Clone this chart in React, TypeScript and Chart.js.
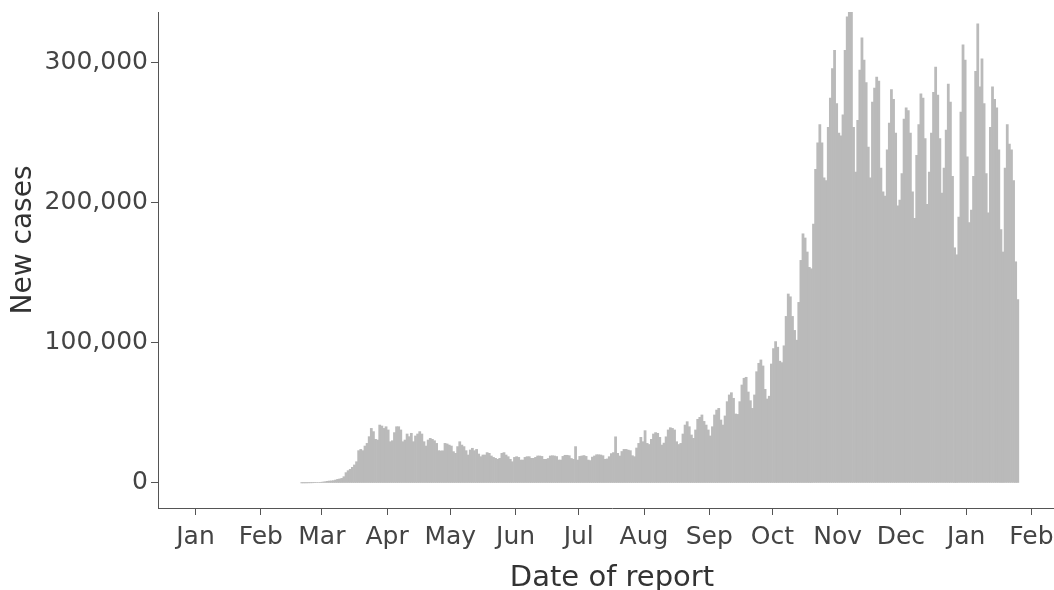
import React, { useEffect, useRef } from 'react';
import { Chart, registerables } from 'chart.js';

Chart.register(...registerables);

// ---- data: daily new cases by date of report ----
const axisOrigin = '2020-01-01';
const seriesStart = '2020-02-20';

const cases2020Feb = [20, 40, 60, 90, 120, 160, 220, 300, 380, 500];
const cases2020Mar = [700, 900, 1200, 1400, 1500, 1700, 2100, 2600, 2900, 3300, 4500, 7400, 8800, 9800, 11200, 12900, 15200, 23100, 24000, 23100, 26400, 28300, 33100, 39000, 36700, 31200, 30700, 41400, 40700, 39000, 40200];
const cases2020Apr = [37900, 29500, 30200, 36000, 40200, 40200, 37900, 29500, 30700, 35000, 33100, 35500, 29500, 33600, 35000, 36700, 35000, 29500, 26400, 30700, 31900, 31200, 30200, 28300, 23100, 22900, 23000, 28300, 27900, 27100];
const cases2020May = [26400, 22400, 21200, 26000, 29500, 27100, 26000, 23100, 20000, 23600, 24800, 23100, 24000, 20700, 18800, 20000, 20000, 21700, 21200, 19300, 18300, 17600, 16900, 17600, 21200, 21700, 20000, 18800, 16900, 15200, 18300];
const cases2020Jun = [18800, 18300, 16400, 16400, 18300, 18800, 18800, 17600, 17600, 18300, 19300, 19300, 19000, 16900, 16900, 17500, 19300, 19500, 19300, 18900, 16400, 16400, 19000, 19800, 19800, 19500, 17500, 16900, 26000, 16400];
const cases2020Jul = [19000, 19300, 19600, 19000, 16400, 16000, 18500, 19300, 20200, 20200, 20000, 19500, 16900, 17200, 18800, 21000, 21700, 33000, 21200, 19300, 22500, 24000, 24000, 23500, 23100, 19500, 18800, 25000, 28300, 32600, 29500];
const cases2020Aug = [37400, 28300, 27500, 31200, 35000, 36000, 35500, 32600, 27100, 28500, 33000, 37900, 39500, 39000, 37900, 29500, 27500, 28300, 35000, 41400, 43800, 40200, 34300, 31900, 37900, 45500, 46900, 48600, 44000, 41400, 37900];
const cases2020Sep = [33600, 40200, 48600, 52100, 53300, 45000, 41400, 47900, 58100, 62900, 64500, 60500, 49300, 49000, 58100, 70000, 74800, 75500, 65000, 58800, 53300, 62900, 79500, 85500, 87900, 83600, 66900, 60000, 62000, 85000];
const cases2020Oct = [96000, 101000, 97000, 87000, 86000, 98000, 119000, 135000, 133000, 119000, 109000, 102000, 129000, 159000, 178000, 175000, 165000, 154000, 153000, 185000, 224000, 243000, 256000, 243000, 218000, 216000, 254000, 275000, 296000, 309000, 271000];
const cases2020Nov = [250000, 248000, 263000, 309000, 333000, 345000, 338000, 254000, 222000, 259000, 295000, 318000, 302000, 286000, 240000, 218000, 272000, 282000, 290000, 287000, 225000, 208000, 205000, 238000, 257000, 281000, 274000, 250000, 198000, 202000];
const cases2020Dec = [221000, 260000, 268000, 266000, 250000, 208000, 189000, 234000, 256000, 278000, 275000, 246000, 199000, 222000, 250000, 279000, 297000, 277000, 246000, 207000, 225000, 252000, 285000, 272000, 219000, 168000, 163000, 190000, 265000, 313000, 302000];
const cases2021Jan = [233000, 186000, 195000, 219000, 294000, 328000, 283000, 303000, 271000, 221000, 193000, 254000, 283000, 274000, 268000, 238000, 181000, 165000, 225000, 256000, 242000, 238000, 216000, 158000, 131000];

const monthTickDates = ['2020-01-01', '2020-02-01', '2020-03-01', '2020-04-01', '2020-05-01', '2020-06-01', '2020-07-01', '2020-08-01', '2020-09-01', '2020-10-01', '2020-11-01', '2020-12-01', '2021-01-01', '2021-02-01'];
const monthTickLabels = ['Jan', 'Feb', 'Mar', 'Apr', 'May', 'Jun', 'Jul', 'Aug', 'Sep', 'Oct', 'Nov', 'Dec', 'Jan', 'Feb'];
const yTickValues = [0, 100000, 200000, 300000];

// axis ranges (in days since axisOrigin / case counts)
const xMinDay = -17.8;
const xMaxDay = 413.4;
const yMin = -17857;
const yMax = 336400;

const DAY_MS = 86400000;
const dayIndex = (s: string) => (Date.parse(s) - Date.parse(axisOrigin)) / DAY_MS;

const allCases = [
  ...cases2020Feb, ...cases2020Mar, ...cases2020Apr, ...cases2020May, ...cases2020Jun,
  ...cases2020Jul, ...cases2020Aug, ...cases2020Sep, ...cases2020Oct, ...cases2020Nov,
  ...cases2020Dec, ...cases2021Jan,
];

const FONT = '"DejaVu Sans", Verdana, sans-serif';

const yTitlePlugin = {
  id: 'yTitleText',
  afterDraw(chart: any) {
    const ctx = chart.ctx;
    ctx.save();
    ctx.translate(24, 240);
    ctx.rotate(-Math.PI / 2);
    ctx.font = `28px ${FONT}`;
    ctx.fillStyle = '#333';
    ctx.textAlign = 'center';
    ctx.textBaseline = 'middle';
    ctx.fillText('New cases', 0, 0);
    ctx.restore();
  },
};

const zeroPadding = (scale: any) => {
  scale.paddingTop = 0;
  scale.paddingBottom = 0;
  scale.paddingLeft = 0;
  scale.paddingRight = 0;
};

export default function App() {
  const canvasRef = useRef<HTMLCanvasElement | null>(null);

  useEffect(() => {
    if (!canvasRef.current) return;
    const start = dayIndex(seriesStart);
    const points = allCases.map((v, i) => ({ x: start + i + 0.5, y: v }));
    const monthTicks = monthTickDates.map(dayIndex);

    const chart = new Chart(canvasRef.current, {
      type: 'bar',
      data: {
        datasets: [
          {
            label: 'New cases',
            data: points as any,
            backgroundColor: '#bababa',
            borderWidth: 0,
            barPercentage: 1,
            categoryPercentage: 1,
          },
        ],
      },
      plugins: [yTitlePlugin],
      options: {
        animation: false,
        responsive: true,
        maintainAspectRatio: false,
        layout: { padding: { top: 12, right: 4, left: 0, bottom: 0 } },
        plugins: {
          legend: { display: false },
          tooltip: { enabled: false },
        },
        scales: {
          x: {
            type: 'linear',
            offset: false,
            min: xMinDay,
            max: xMaxDay,
            afterBuildTicks: (scale: any) => {
              scale.ticks = monthTicks.map((v) => ({ value: v }));
            },
            afterFit: (scale: any) => {
              scale.height = 82;
              zeroPadding(scale);
            },
            ticks: {
              autoSkip: false,
              maxRotation: 0,
              minRotation: 0,
              padding: 7,
              color: '#444',
              font: { family: FONT, size: 25 },
              callback: (_v: any, i: number) => monthTickLabels[i],
            },
            grid: {
              display: true,
              offset: false,
              drawOnChartArea: false,
              drawTicks: true,
              tickLength: 7,
              color: '#555',
            },
            border: { display: true, color: '#555', width: 1 },
            title: {
              display: true,
              text: 'Date of report',
              color: '#333',
              font: { family: FONT, size: 29, lineHeight: 0.8 },
              padding: { top: 0, bottom: 0 },
            },
          },
          y: {
            type: 'linear',
            min: yMin,
            max: yMax,
            afterBuildTicks: (scale: any) => {
              scale.ticks = yTickValues.map((v) => ({ value: v }));
            },
            afterFit: (scale: any) => {
              scale.width = 158;
              zeroPadding(scale);
            },
            ticks: {
              padding: 3,
              color: '#444',
              font: { family: FONT, size: 25 },
              callback: (v: any) => Number(v).toLocaleString('en-US'),
            },
            grid: {
              display: true,
              drawOnChartArea: false,
              drawTicks: true,
              tickLength: 7,
              color: '#555',
            },
            border: { display: true, color: '#555', width: 1 },
          },
        },
      },
    });
    return () => chart.destroy();
  }, []);

  return (
    <div style={{ position: 'fixed', left: 0, top: 0, width: 1054, height: 590, overflow: 'hidden', background: '#fff' }}>
      <div style={{ position: 'relative', width: 1070, height: 590 }}>
        <canvas ref={canvasRef} />
      </div>
    </div>
  );
}
